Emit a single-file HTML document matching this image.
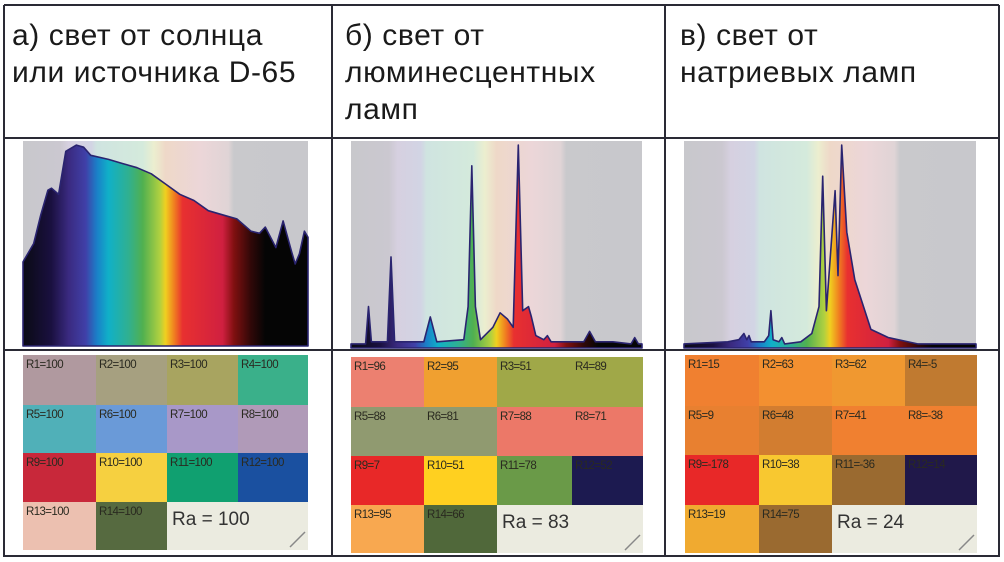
<!DOCTYPE html>
<html><head><meta charset="utf-8"><style>
body{margin:0;background:#fff;}
svg{display:block;font-family:"Liberation Sans",sans-serif;}
</style></head><body>
<svg id="s" width="1004" height="562" viewBox="0 0 1004 562">
<defs>
<linearGradient id="bg" x1="0" x2="1" y1="0" y2="0">
<stop offset="0" stop-color="#c8c8cc"/><stop offset="0.13" stop-color="#cbc8d0"/><stop offset="0.16" stop-color="#d6d0e0"/><stop offset="0.24" stop-color="#d2d4e4"/><stop offset="0.26" stop-color="#cfe4e0"/><stop offset="0.42" stop-color="#d4eadc"/><stop offset="0.46" stop-color="#eceecf"/><stop offset="0.5" stop-color="#eed8c8"/><stop offset="0.62" stop-color="#ecd6d8"/><stop offset="0.72" stop-color="#e0d4d6"/><stop offset="0.74" stop-color="#c9c9cc"/><stop offset="1" stop-color="#c8c8cc"/>
</linearGradient>
<linearGradient id="rainA" x1="0" x2="1" y1="0" y2="0">
<stop offset="0" stop-color="#0a0a14"/><stop offset="0.1" stop-color="#1a1040"/><stop offset="0.16" stop-color="#3a2a80"/><stop offset="0.22" stop-color="#4040a8"/><stop offset="0.26" stop-color="#1a80c8"/><stop offset="0.3" stop-color="#10b0c8"/><stop offset="0.37" stop-color="#30b090"/><stop offset="0.42" stop-color="#50b050"/><stop offset="0.48" stop-color="#b0d040"/><stop offset="0.5" stop-color="#f0d020"/><stop offset="0.53" stop-color="#f08020"/><stop offset="0.56" stop-color="#e83030"/><stop offset="0.7" stop-color="#d02040"/><stop offset="0.74" stop-color="#801010"/><stop offset="0.8" stop-color="#300808"/><stop offset="0.85" stop-color="#050505"/><stop offset="1" stop-color="#050505"/>
</linearGradient>
</defs>
<g id="frame" stroke="#2a2a35" stroke-width="2">
<line x1="4" y1="5" x2="4" y2="557"/><line x1="332" y1="5" x2="332" y2="557"/><line x1="665" y1="5" x2="665" y2="557"/><line x1="999" y1="5" x2="999" y2="557"/>
<line x1="4" y1="5" x2="999" y2="5"/><line x1="4" y1="138" x2="999" y2="138"/><line x1="4" y1="350" x2="999" y2="350"/><line x1="4" y1="556" x2="999" y2="556"/>
</g>
<g font-size="30" fill="#1a1a1a" letter-spacing="0.6">
<text x="12" y="45">а) свет от солнца</text>
<text x="12" y="82">или источника D-65</text>
<text x="345" y="45">б) свет от</text>
<text x="345" y="82">люминесцентных</text>
<text x="345" y="119">ламп</text>
<text x="680" y="45">в) свет от</text>
<text x="680" y="82">натриевых ламп</text>
</g>
</svg>
<script>
// spectra: wavelength (nm) and relative intensity (0..1)
const wlA=[380,395,405,415,420,430,440,455,465,475,500,520,540,560,580,600,620,640,660,680,700,712,720,735,745,757,762,768,775,780];
const valA=[0.41,0.5,0.64,0.76,0.77,0.74,0.95,0.98,0.97,0.93,0.91,0.89,0.87,0.84,0.79,0.74,0.71,0.66,0.64,0.62,0.56,0.55,0.58,0.48,0.61,0.46,0.4,0.45,0.56,0.53];
const wlB=[380,400,404,408,430,435,440,480,489,498,535,541,546,551,558,575,585,595,603,610,616,624,628,634,645,650,655,680,700,708,716,740,765,770,775,780];
const valB=[0.02,0.02,0.2,0.03,0.03,0.44,0.03,0.03,0.15,0.03,0.04,0.2,0.88,0.2,0.04,0.1,0.17,0.14,0.1,0.98,0.18,0.2,0.15,0.06,0.04,0.06,0.03,0.03,0.03,0.08,0.03,0.03,0.02,0.05,0.02,0.02];
const wlC=[380,440,455,462,466,469,472,490,496,499,502,510,514,518,540,555,565,570,575,587,591,596,603,614,636,660,700,780];
const valC=[0.02,0.03,0.04,0.07,0.04,0.06,0.03,0.03,0.06,0.18,0.04,0.03,0.05,0.02,0.03,0.07,0.2,0.83,0.18,0.76,0.35,0.98,0.56,0.33,0.09,0.05,0.02,0.02];
// colour rendering indices
const labels=["R1","R2","R3","R4","R5","R6","R7","R8","R9","R10","R11","R12","R13","R14"];
const riA=[100,100,100,100,100,100,100,100,100,100,100,100,100,100];
const riB=[96,95,51,89,88,81,88,71,7,51,78,52,95,66];
const riC=[15,63,62,-5,9,48,41,-38,-178,38,-36,14,19,75];
const raVals=[100,83,24];
const colA=["#b0999f","#a6a080","#a8a460","#3ab08a","#50b0b8","#6a9ad8","#a898c8","#b09ab8","#c8283a","#f6d040","#10a070","#1a50a0","#ecc0b0","#566a40"];
const colB=["#ec8070","#f0a030","#a0a848","#a0a848","#909a70","#909a70","#ec7868","#ec7868","#e82828","#ffd020","#6a9a48","#1c1a50","#f8a850","#50683a"];
const colC=["#f08030","#f39030","#f09830","#c07a30","#e88030","#d27d30","#f08030","#f08030","#e82828","#f8c830","#9a6a30","#20184a","#f0aa30","#9a6a30"];

const NS="http://www.w3.org/2000/svg";
const svg=document.getElementById('s');
function mk(t,a,p){const e=document.createElementNS(NS,t);for(const k in a)e.setAttribute(k,a[k]);(p||svg).appendChild(e);return e;}

function spectrum(name,x0,y0,w,h,wl,val,fill){
  const g=mk('g',{});
  
  
  const bgR=mk('rect',{x:x0,y:y0,width:w,height:h,fill:'url(#bg)'},g);
  
  
  const xs=v=>x0+(v-380)/400*w, ys=v=>y0+h-v*h;
  let d='M'+xs(wl[0])+','+(y0+h);
  for(let i=0;i<wl.length;i++)d+=' L'+xs(wl[i]).toFixed(1)+','+ys(val[i]).toFixed(1);
  d+=' L'+xs(wl[wl.length-1])+','+(y0+h)+' Z';
  const p=mk('path',{d:d,fill:fill,stroke:'#2a2470','stroke-width':1.6,'stroke-linejoin':'round'},g);
  
  
}
spectrum('spectrum-daylight',23,141,285,205,wlA,valA,'url(#rainA)');
spectrum('spectrum-fluorescent',351,141,291,207,wlB,valB,'url(#rainA)');
spectrum('spectrum-sodium',684,141,292,207,wlC,valC,'url(#rainA)');

function grid(name,cx,ry,ri,col,ra){
  const g=mk('g',{});
  
  
  for(let i=0;i<14;i++){
    const c=i%4,r=Math.floor(i/4);
    const rc=mk('rect',{x:cx[c],y:ry[r],width:cx[c+1]-cx[c],height:ry[r+1]-ry[r],fill:col[i]},g);
    
    
    const t=mk('text',{x:cx[c]+3,y:ry[r]+13,'font-size':11.5,fill:'#2a2a20','letter-spacing':'-0.6'},g);
    t.textContent=labels[i]+'='+ri[i];
    
    
  }
  const rb=mk('rect',{x:cx[2],y:ry[3],width:cx[4]-cx[2],height:ry[4]-ry[3],fill:'#ebebe0'},g);
  
  
  const ln=mk('line',{x1:cx[4]-18,y1:ry[4]-3,x2:cx[4]-3,y2:ry[4]-18,stroke:'#888','stroke-width':1.5},g);
  
  
  const t=mk('text',{x:cx[2]+5,y:ry[3]+23,'font-size':19,fill:'#333'},g);
  t.textContent='Ra = '+ra;
  
  
}
grid('cri-grid-daylight',[23,96,167,238,308],[355,405,453,502,550],riA,colA,raVals[0]);
grid('cri-grid-fluorescent',[351,424,497,572,643],[357,407,456,505,553],riB,colB,raVals[1]);
grid('cri-grid-sodium',[685,759,832,905,977],[355,406,455,505,553],riC,colC,raVals[2]);
// keep frame on top
svg.appendChild(document.getElementById('frame'));
</script>
</body></html>
